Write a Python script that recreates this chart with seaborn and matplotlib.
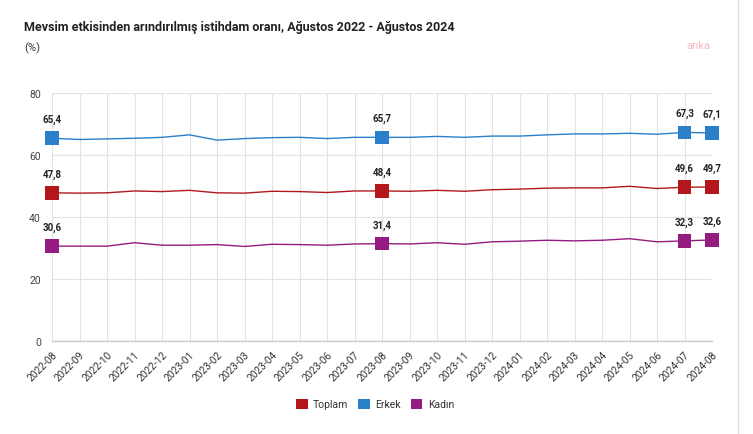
import matplotlib
matplotlib.use("Agg")
import matplotlib.pyplot as plt
import seaborn as sns
import pandas as pd
from matplotlib.patches import Patch
from matplotlib.lines import Line2D

months = ["2022-08", "2022-09", "2022-10", "2022-11", "2022-12", "2023-01", "2023-02",
          "2023-03", "2023-04", "2023-05", "2023-06", "2023-07", "2023-08", "2023-09",
          "2023-10", "2023-11", "2023-12", "2024-01", "2024-02", "2024-03", "2024-04",
          "2024-05", "2024-06", "2024-07", "2024-08"]
toplam = [47.8, 47.7, 47.8, 48.4, 48.2, 48.6, 47.8, 47.7, 48.3, 48.2, 47.9, 48.4, 48.4,
          48.3, 48.6, 48.3, 48.8, 49.0, 49.3, 49.4, 49.4, 49.9, 49.2, 49.6, 49.7]
erkek = [65.4, 65.0, 65.2, 65.4, 65.7, 66.5, 64.8, 65.3, 65.6, 65.7, 65.3, 65.7, 65.7,
         65.7, 66.0, 65.7, 66.1, 66.1, 66.5, 66.8, 66.8, 67.0, 66.7, 67.3, 67.1]
kadin = [30.6, 30.6, 30.6, 31.7, 30.9, 30.9, 31.1, 30.5, 31.2, 31.1, 30.9, 31.3, 31.4,
         31.3, 31.7, 31.2, 32.0, 32.2, 32.5, 32.3, 32.5, 33.0, 32.0, 32.3, 32.6]
series_names = ["Toplam", "Erkek", "Kadın"]
labeled_idx = [0, 12, 23, 24]
yticks = [0, 20, 40, 60, 80]

colors = {"Toplam": "#B3171C", "Erkek": "#2A80C8", "Kadın": "#951B81"}

rows = []
for name, vals in zip(series_names, [toplam, erkek, kadin]):
    for i, (m, v) in enumerate(zip(months, vals)):
        rows.append({"x": i, "month": m, "series": name, "value": v})
df = pd.DataFrame(rows)

sns.set_theme(style="white")
plt.rcParams["font.family"] = ["Roboto", "DejaVu Sans"]

fig = plt.figure(figsize=(7.53, 4.35), dpi=100)
ax = fig.add_axes([52 / 753, 1 - 342 / 435, 660 / 753, 248 / 435])

sns.lineplot(data=df, x="x", y="value", hue="series", palette=colors,
             hue_order=series_names, linewidth=1.0, ax=ax, legend=False)

sub = df[df["x"].isin(labeled_idx)]
sns.scatterplot(data=sub, x="x", y="value", hue="series", palette=colors,
                hue_order=series_names, marker="s", s=95, edgecolor="none",
                ax=ax, legend=False, zorder=5, clip_on=False)
for _, r in sub.iterrows():
    ax.annotate(f"{r['value']:.1f}".replace(".", ","), (r["x"], r["value"]),
                xytext=(0, 10), textcoords="offset points", ha="center", va="bottom",
                fontsize=7, fontweight="bold", color="#222222")

ax.set_xlim(0, len(months) - 1)
ax.set_ylim(0, 80)
ax.set_yticks(yticks)
ax.set_yticklabels([str(t) for t in yticks])
ax.set_xticks(range(len(months)))
ax.set_xticklabels(months, rotation=45, ha="right", rotation_mode="anchor")
ax.tick_params(axis="x", labelsize=7.3, colors="#333333", length=4, width=0.6,
               pad=2, color="#cccccc")
ax.tick_params(axis="y", labelsize=7.5, colors="#444444", length=4, width=0.6,
               pad=4, color="#cccccc")
ax.grid(True, color="#e3e3e3", linewidth=0.8)
ax.set_axisbelow(True)
for s in ["top", "right", "left"]:
    ax.spines[s].set_visible(False)
ax.spines["bottom"].set_color("#cccccc")
ax.spines["bottom"].set_linewidth(1.0)
ax.set_xlabel("")
ax.set_ylabel("")

fig.text(24 / 753, 1 - 28 / 435, "Mevsim etkisinden arındırılmış istihdam oranı, Ağustos 2022 - Ağustos 2024",
         fontsize=9, fontweight="bold", color="#222222", va="center", ha="left")
fig.text(24 / 753, 1 - 48 / 435, "(%)", fontsize=8, color="#333333", va="center", ha="left")
fig.text(710 / 753, 1 - 46 / 435, "anka", fontsize=8, color="#f5b8c0", va="center", ha="right")

fig.add_artist(Line2D([738 / 753, 738 / 753], [0, 1], color="#dddddd", linewidth=1.0))

handles = [Patch(facecolor=colors[n], edgecolor="none", label=n) for n in series_names]
fig.legend(handles=handles, loc="center", bbox_to_anchor=(375 / 753, 1 - 405 / 435),
           ncol=3, frameon=False, fontsize=7.5, handlelength=1.1, handleheight=1.1,
           handletextpad=0.5, columnspacing=1.0, labelcolor="#333333")

fig.savefig("out.png", dpi=100)
